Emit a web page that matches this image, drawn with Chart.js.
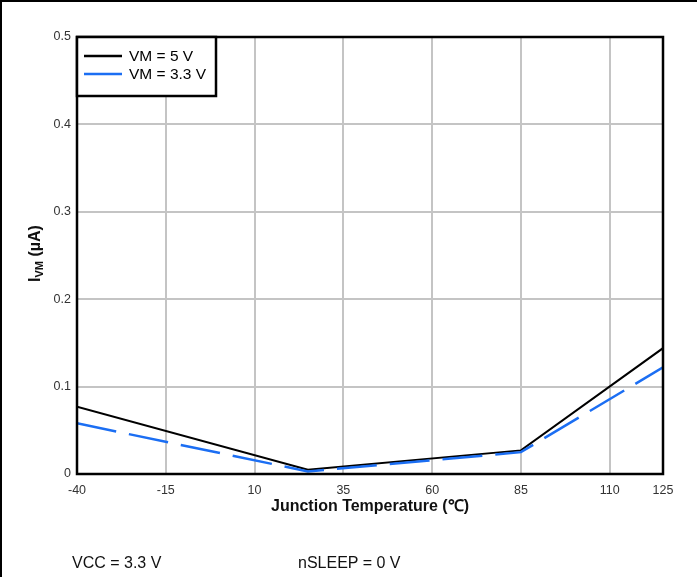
<!DOCTYPE html>
<html>
<head>
<meta charset="utf-8">
<script src="https://cdn.jsdelivr.net/npm/chart.js@4/dist/chart.umd.min.js"></script>
<style>
  html, body { margin: 0; padding: 0; background: #fff; }
  #wrap { position: relative; width: 697px; height: 577px; overflow: hidden; }
  #chart { position: absolute; left: 0; top: 0; }
  #edge { position: absolute; left: 0; top: 0; width: 697px; height: 577px;
          border-top: 2px solid #000; border-left: 2px solid #000; box-sizing: border-box; pointer-events: none; }
  .note { position: absolute; top: 554px; font: 16px Arial, "Liberation Sans", sans-serif; color: #111; }
</style>
</head>
<body>
<div id="wrap">
  <canvas id="chart" width="697" height="577"></canvas>
  <div id="edge"></div>
  <div class="note" style="left:72px">VCC = 3.3 V</div>
  <div class="note" style="left:298px">nSLEEP = 0 V</div>
</div>
<script>
// junction temperature (°C)
const temps = [-40, 25, 85, 125];
const ivm5 = [0.077, 0.005, 0.027, 0.144];
const ivm33 = [0.058, 0.003, 0.025, 0.122];

const xTicks = [-40, -15, 10, 35, 60, 85, 110, 125];
const yTicks = [0, 0.1, 0.2, 0.3, 0.4, 0.5];

const seriesNames = ["VM = 5 V", "VM = 3.3 V"];
const blackLine = "#000000";
const blueLine = "#1b6ef3";
const gridColor = "#c4c4c4";
const fontFamily = "Arial, 'Liberation Sans', sans-serif";

function points(values) {
  return temps.map((t, i) => ({ x: t, y: values[i] }));
}

// frame around the plot, y title with subscript, and the boxed legend
const decorations = {
  id: "decorations",
  afterDatasetsDraw(chart) {
    const { ctx, chartArea } = chart;
    const { left, top, right, bottom } = chartArea;

    ctx.save();
    ctx.strokeStyle = "#000";
    ctx.lineWidth = 2.5;
    ctx.strokeRect(left, top, right - left, bottom - top);

    // legend box
    const boxRight = 216;
    const boxBottom = 96;
    ctx.fillStyle = "#fff";
    ctx.fillRect(left, top, boxRight - left, boxBottom - top);
    ctx.lineWidth = 2.5;
    ctx.strokeRect(left, top, boxRight - left, boxBottom - top);

    const rows = [56, 74];
    ctx.font = "15.5px " + fontFamily;
    ctx.textBaseline = "middle";
    ctx.textAlign = "left";
    chart.data.datasets.forEach((ds, i) => {
      ctx.strokeStyle = ds.borderColor;
      ctx.lineWidth = 2.5;
      ctx.setLineDash([]);
      ctx.beginPath();
      ctx.moveTo(84, rows[i]);
      ctx.lineTo(122, rows[i]);
      ctx.stroke();
      ctx.fillStyle = "#000";
      ctx.fillText(ds.label, 129, rows[i] + 1);
    });

    // y axis title: I with subscript VM
    ctx.translate(34, (top + bottom) / 2 - 2);
    ctx.rotate(-Math.PI / 2);
    ctx.fillStyle = "#111";
    ctx.textBaseline = "alphabetic";
    ctx.font = "bold 16px " + fontFamily;
    const main = "I";
    const sub = "VM";
    const rest = " (µA)";
    const wMain = ctx.measureText(main).width;
    ctx.font = "bold 11px " + fontFamily;
    const wSub = ctx.measureText(sub).width;
    ctx.font = "bold 16px " + fontFamily;
    const wRest = ctx.measureText(rest).width;
    let x = -(wMain + wSub + wRest) / 2;
    ctx.fillText(main, x, 6);
    x += wMain;
    ctx.font = "bold 11px " + fontFamily;
    ctx.fillText(sub, x, 9);
    x += wSub;
    ctx.font = "bold 16px " + fontFamily;
    ctx.fillText(rest, x, 6);
    ctx.restore();
  }
};

new Chart(document.getElementById("chart"), {
  type: "line",
  data: {
    datasets: [
      {
        label: seriesNames[0],
        data: points(ivm5),
        borderColor: blackLine,
        borderWidth: 2,
        pointRadius: 0,
        tension: 0,
        order: 1
      },
      {
        label: seriesNames[1],
        data: points(ivm33),
        borderColor: blueLine,
        borderWidth: 2.5,
        borderDash: [40, 13],
        pointRadius: 0,
        tension: 0,
        order: 0
      }
    ]
  },
  options: {
    responsive: false,
    devicePixelRatio: 1,
    animation: false,
    layout: { padding: { left: 0, top: 37, right: 34, bottom: 43 } },
    plugins: {
      legend: { display: false },
      tooltip: { enabled: false }
    },
    scales: {
      x: {
        type: "linear",
        min: -40,
        max: 125,
        afterBuildTicks: (scale) => {
          scale.ticks = xTicks.map((v) => ({ value: v }));
        },
        afterFit: (scale) => {
          scale.height = 60;
        },
        ticks: {
          padding: 9,
          maxRotation: 0,
          color: "#333",
          font: { family: fontFamily, size: 12.5 },
          callback: (value) => String(value)
        },
        grid: { color: gridColor, lineWidth: 2, drawTicks: false },
        border: { display: false },
        title: {
          display: true,
          text: "Junction Temperature (℃)",
          color: "#111",
          font: { family: fontFamily, size: 16, weight: "bold" },
          padding: { top: 0, bottom: 18 }
        }
      },
      y: {
        min: 0,
        max: 0.5,
        afterBuildTicks: (scale) => {
          scale.ticks = yTicks.map((v) => ({ value: v }));
        },
        afterFit: (scale) => {
          scale.width = 77;
        },
        ticks: {
          padding: 6,
          color: "#333",
          font: { family: fontFamily, size: 12.5 },
          callback: (value) => String(Number(value.toFixed(1)))
        },
        grid: { color: gridColor, lineWidth: 2, drawTicks: false },
        border: { display: false }
      }
    }
  },
  plugins: [decorations]
});
</script>
</body>
</html>
